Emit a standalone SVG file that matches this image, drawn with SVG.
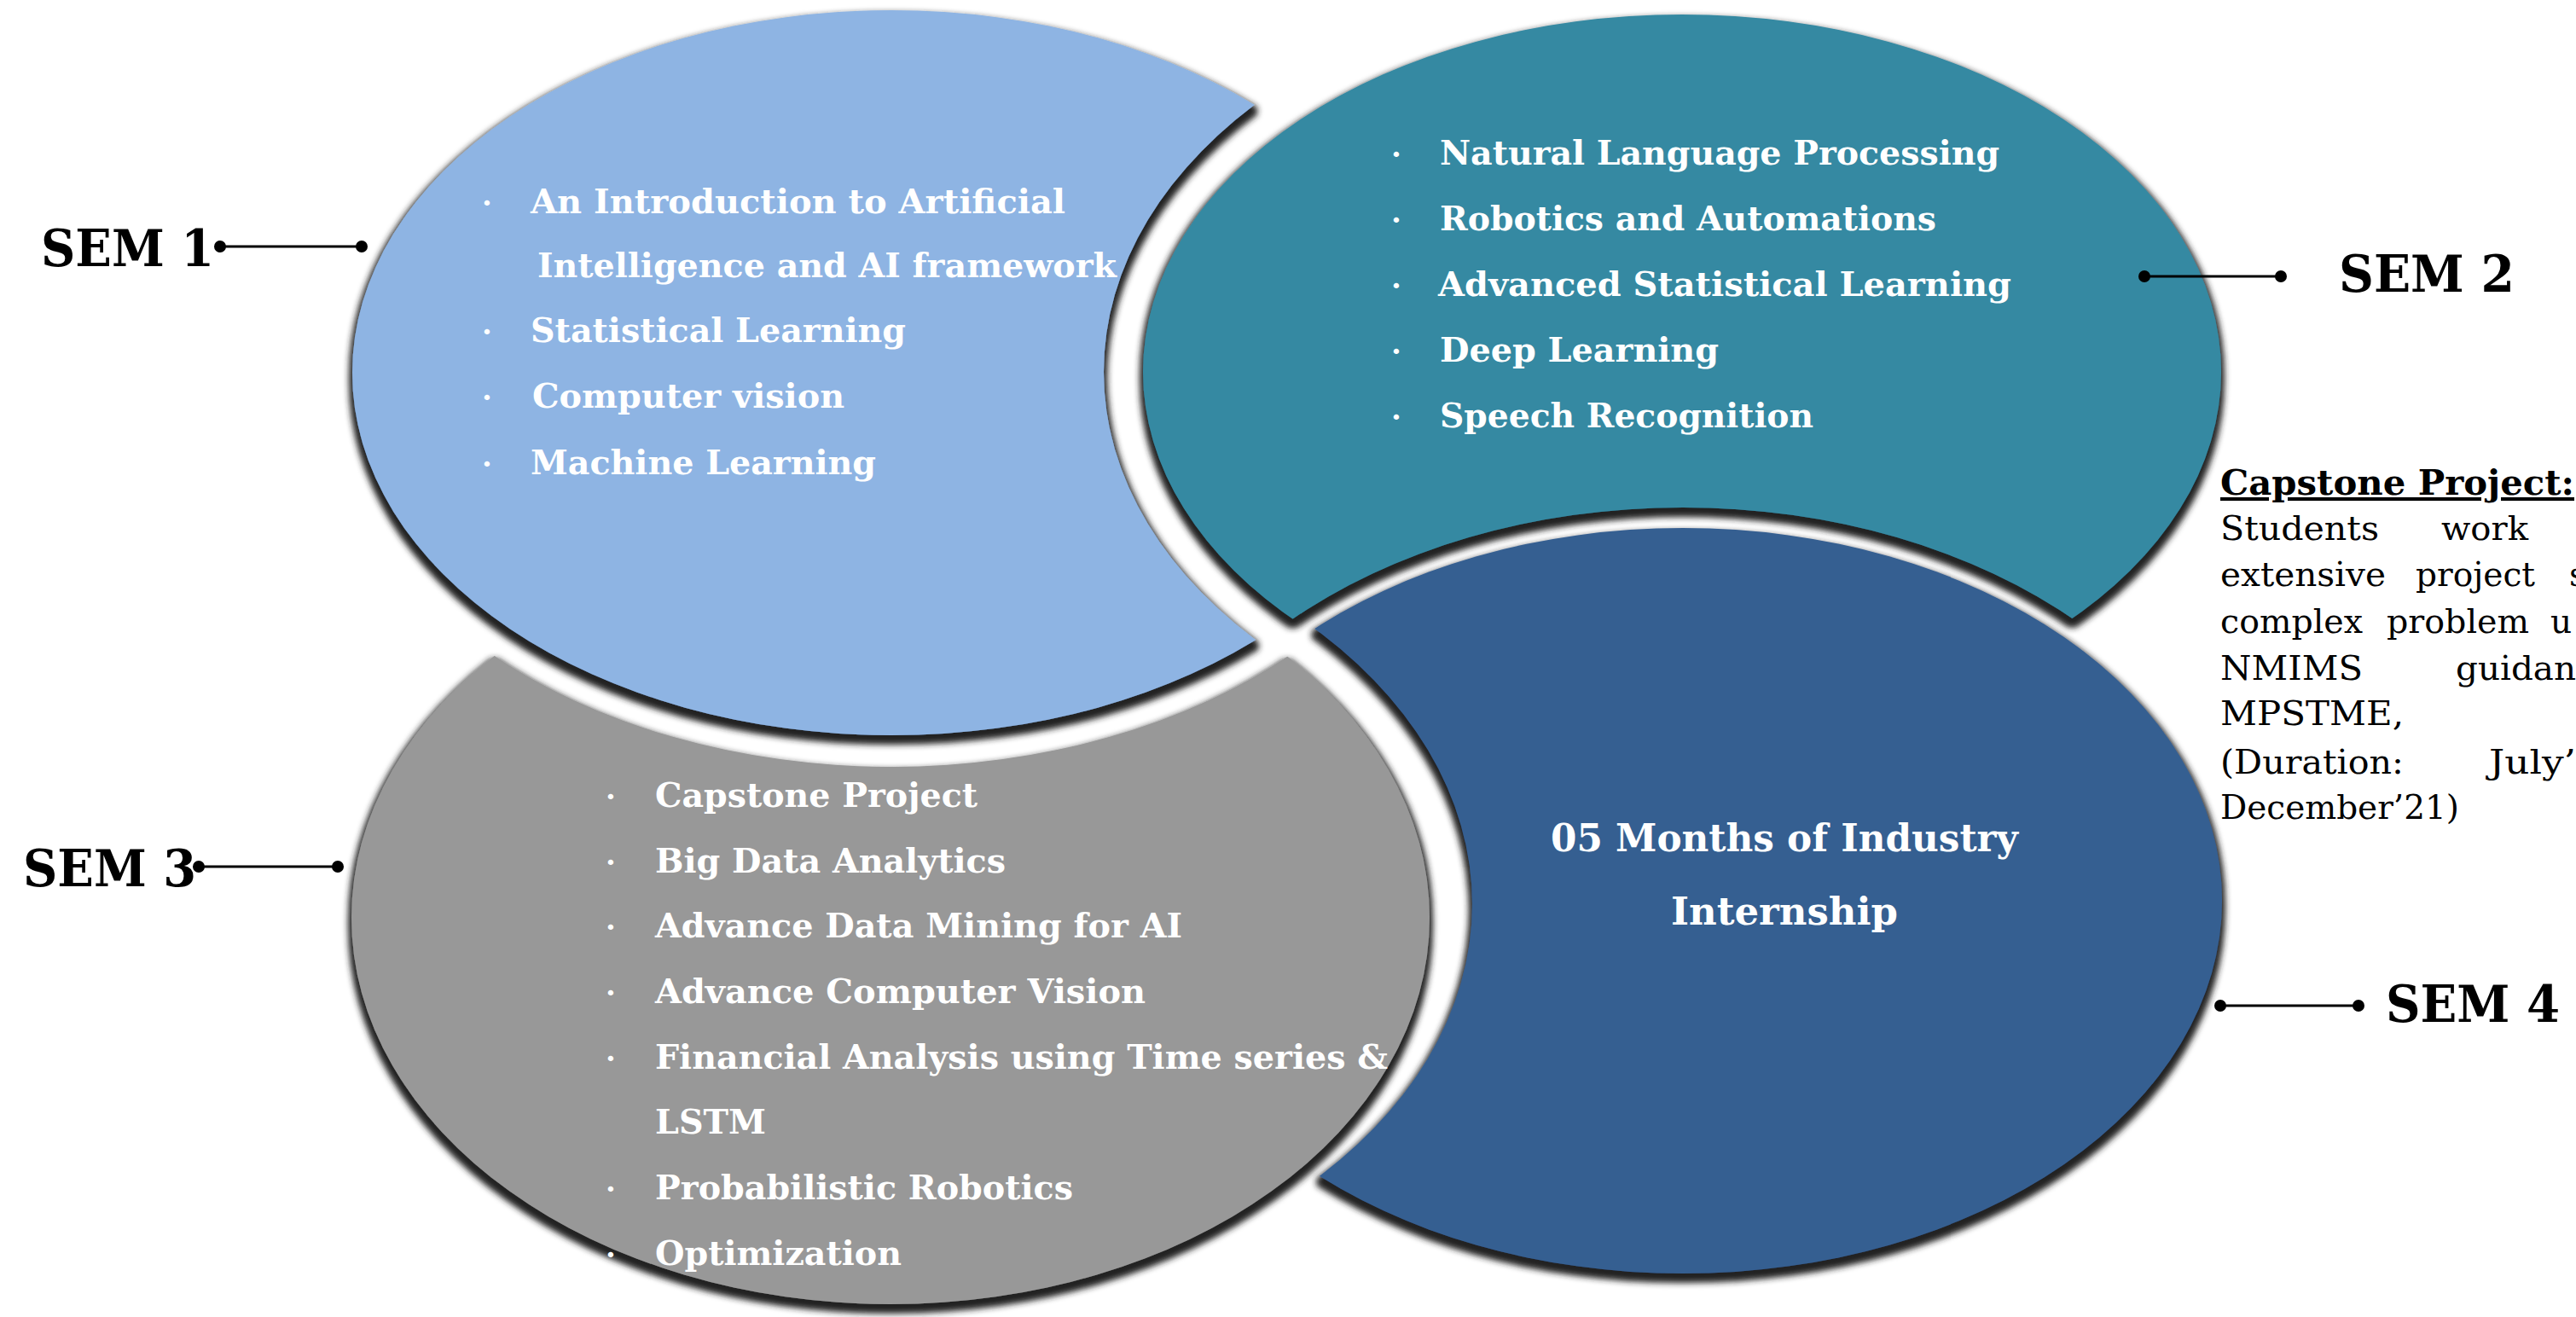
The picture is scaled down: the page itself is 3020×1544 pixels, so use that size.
<svg xmlns="http://www.w3.org/2000/svg" width="3020" height="1544" viewBox="0 0 3020 1544">
<style>
.t{font-family:"DejaVu Serif","Liberation Serif",serif;font-weight:bold;font-size:40px;fill:#fff}
.bu{font-family:"DejaVu Serif","Liberation Serif",serif;font-weight:bold;font-size:34px;fill:#fff;text-anchor:middle}
.lbl{font-family:"DejaVu Serif","Liberation Serif",serif;font-weight:bold;font-size:60px;fill:#000}
.cp{font-family:"DejaVu Serif","Liberation Serif",serif;font-size:39px;fill:#000}
.cph{font-family:"DejaVu Serif","Liberation Serif",serif;font-weight:bold;font-size:41px;fill:#000;text-decoration:underline}
.ln{stroke:#000;stroke-width:3}
.dot{fill:#000}
</style>
<defs>
<filter id="sh" x="-5%" y="-5%" width="110%" height="115%">
<feMorphology in="SourceAlpha" operator="dilate" radius="4" result="d"/>
<feOffset in="d" dy="7" result="o"/>
<feGaussianBlur in="o" stdDeviation="3.5" result="b"/>
<feFlood flood-color="#222"/>
<feComposite in2="b" operator="in" result="s"/>
<feMerge><feMergeNode in="s"/><feMergeNode in="SourceGraphic"/></feMerge>
</filter>
<mask id="m1" maskUnits="userSpaceOnUse" x="0" y="0" width="3020" height="1544"><rect width="3020" height="1544" fill="#fff"/><ellipse cx="1972" cy="436" rx="678" ry="465" fill="#000"/></mask>
<mask id="m2" maskUnits="userSpaceOnUse" x="0" y="0" width="3020" height="1544"><rect width="3020" height="1544" fill="#fff"/><ellipse cx="1973" cy="1056" rx="656" ry="461" fill="#000"/></mask>
<mask id="m3" maskUnits="userSpaceOnUse" x="0" y="0" width="3020" height="1544"><rect width="3020" height="1544" fill="#fff"/><ellipse cx="1045" cy="437" rx="669" ry="462" fill="#000"/></mask>
<mask id="m4" maskUnits="userSpaceOnUse" x="0" y="0" width="3020" height="1544"><rect width="3020" height="1544" fill="#fff"/><ellipse cx="1044" cy="1060" rx="682" ry="472" fill="#000"/></mask>
</defs>
<rect width="3020" height="1544" fill="#fff"/>

<g id="sem1">
<g filter="url(#sh)"><ellipse cx="1045" cy="437" rx="632" ry="425" fill="#8EB4E3" mask="url(#m1)"/></g>
<text class="bu" x="571" y="250">·</text>
<text class="t" x="622" y="250" textLength="627" lengthAdjust="spacingAndGlyphs">An Introduction to Artificial</text>
<text class="t" x="630" y="325" textLength="679" lengthAdjust="spacingAndGlyphs">Intelligence and AI framework</text>
<text class="bu" x="571" y="401">·</text>
<text class="t" x="622" y="401" textLength="440" lengthAdjust="spacingAndGlyphs">Statistical Learning</text>
<text class="bu" x="571" y="478">·</text>
<text class="t" x="624" y="478" textLength="366" lengthAdjust="spacingAndGlyphs">Computer vision</text>
<text class="bu" x="571" y="556">·</text>
<text class="t" x="622" y="556" textLength="405" lengthAdjust="spacingAndGlyphs">Machine Learning</text>
</g>

<g id="sem2">
<g filter="url(#sh)"><ellipse cx="1972" cy="436" rx="632" ry="419" fill="#3589A2" mask="url(#m2)"/></g>
<text class="bu" x="1637" y="193">·</text>
<text class="t" x="1688" y="193" textLength="656" lengthAdjust="spacingAndGlyphs">Natural Language Processing</text>
<text class="bu" x="1637" y="270">·</text>
<text class="t" x="1688" y="270" textLength="582" lengthAdjust="spacingAndGlyphs">Robotics and Automations</text>
<text class="bu" x="1637" y="347">·</text>
<text class="t" x="1686" y="347" textLength="672" lengthAdjust="spacingAndGlyphs">Advanced Statistical Learning</text>
<text class="bu" x="1637" y="424">·</text>
<text class="t" x="1688" y="424" textLength="327" lengthAdjust="spacingAndGlyphs">Deep Learning</text>
<text class="bu" x="1637" y="501">·</text>
<text class="t" x="1688" y="501" textLength="438" lengthAdjust="spacingAndGlyphs">Speech Recognition</text>
</g>

<g id="sem3">
<g filter="url(#sh)"><ellipse cx="1044" cy="1076" rx="632" ry="453" fill="#989898" mask="url(#m3)"/></g>
<text class="bu" x="716" y="946">·</text>
<text class="t" x="768" y="946" textLength="378" lengthAdjust="spacingAndGlyphs">Capstone Project</text>
<text class="bu" x="716" y="1023">·</text>
<text class="t" x="768" y="1023" textLength="411" lengthAdjust="spacingAndGlyphs">Big Data Analytics</text>
<text class="bu" x="716" y="1099">·</text>
<text class="t" x="768" y="1099" textLength="618" lengthAdjust="spacingAndGlyphs">Advance Data Mining for AI</text>
<text class="bu" x="716" y="1176">·</text>
<text class="t" x="768" y="1176" textLength="575" lengthAdjust="spacingAndGlyphs">Advance Computer Vision</text>
<text class="bu" x="716" y="1253">·</text>
<text class="t" x="768" y="1253" textLength="859" lengthAdjust="spacingAndGlyphs">Financial Analysis using Time series &amp;</text>
<text class="t" x="768" y="1329" textLength="130" lengthAdjust="spacingAndGlyphs">LSTM</text>
<text class="bu" x="716" y="1406">·</text>
<text class="t" x="768" y="1406" textLength="490" lengthAdjust="spacingAndGlyphs">Probabilistic Robotics</text>
<text class="bu" x="716" y="1483">·</text>
<text class="t" x="768" y="1483" textLength="289" lengthAdjust="spacingAndGlyphs">Optimization</text>
</g>

<g id="sem4">
<g filter="url(#sh)"><ellipse cx="1973" cy="1056" rx="632" ry="437" fill="#365F91" mask="url(#m4)"/></g>
<text class="t" x="1818" y="998" style="font-size:44px" textLength="548" lengthAdjust="spacingAndGlyphs">05 Months of Industry</text>
<text class="t" x="1959" y="1084" style="font-size:44px" textLength="266" lengthAdjust="spacingAndGlyphs">Internship</text>
</g>

<g id="label-sem1"><text class="lbl" x="48" y="312" textLength="203" lengthAdjust="spacingAndGlyphs">SEM 1</text></g>
<g id="label-sem2"><text class="lbl" x="2742" y="342" textLength="206" lengthAdjust="spacingAndGlyphs">SEM 2</text></g>
<g id="label-sem3"><text class="lbl" x="27" y="1039" textLength="203" lengthAdjust="spacingAndGlyphs">SEM 3</text></g>
<g id="label-sem4"><text class="lbl" x="2797" y="1198" textLength="204" lengthAdjust="spacingAndGlyphs">SEM 4</text></g>

<g id="capstone-note">
<text class="cph" x="2603" y="580" textLength="415" lengthAdjust="spacingAndGlyphs">Capstone Project:</text>
<text class="cp" x="2603" y="633" textLength="186" lengthAdjust="spacingAndGlyphs">Students</text>
<text class="cp" x="2862" y="633" textLength="102" lengthAdjust="spacingAndGlyphs">work</text>
<text class="cp" x="2603" y="687" textLength="194" lengthAdjust="spacingAndGlyphs">extensive</text>
<text class="cp" x="2832" y="687" textLength="140" lengthAdjust="spacingAndGlyphs">project</text>
<text class="cp" x="3012" y="687">s</text>
<text class="cp" x="2603" y="742" textLength="167" lengthAdjust="spacingAndGlyphs">complex</text>
<text class="cp" x="2798" y="742" textLength="167" lengthAdjust="spacingAndGlyphs">problem</text>
<text class="cp" x="2990" y="742">u</text>
<text class="cp" x="2603" y="797" textLength="167" lengthAdjust="spacingAndGlyphs">NMIMS</text>
<text class="cp" x="2879" y="797" textLength="141" lengthAdjust="spacingAndGlyphs">guidan</text>
<text class="cp" x="2603" y="850" textLength="215" lengthAdjust="spacingAndGlyphs">MPSTME,</text>
<text class="cp" x="2603" y="907" textLength="215" lengthAdjust="spacingAndGlyphs">(Duration:</text>
<text class="cp" x="2918" y="907" textLength="102" lengthAdjust="spacingAndGlyphs">July’</text>
<text class="cp" x="2603" y="960" textLength="280" lengthAdjust="spacingAndGlyphs">December’21)</text>
</g>

<g id="connectors">
<line class="ln" x1="258" y1="289" x2="424" y2="289"/><circle class="dot" cx="258" cy="289" r="7"/><circle class="dot" cx="424" cy="289" r="7"/>
<line class="ln" x1="2514" y1="324" x2="2674" y2="324"/><circle class="dot" cx="2514" cy="324" r="7"/><circle class="dot" cx="2674" cy="324" r="7"/>
<line class="ln" x1="233" y1="1016" x2="396" y2="1016"/><circle class="dot" cx="233" cy="1016" r="7"/><circle class="dot" cx="396" cy="1016" r="7"/>
<line class="ln" x1="2603" y1="1179" x2="2765" y2="1179"/><circle class="dot" cx="2603" cy="1179" r="7"/><circle class="dot" cx="2765" cy="1179" r="7"/>
</g>
</svg>
